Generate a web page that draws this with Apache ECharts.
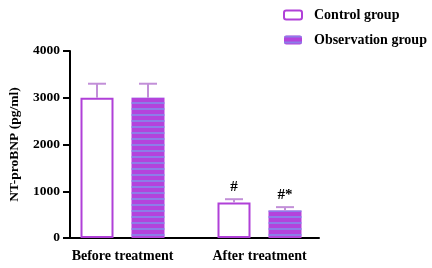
<!DOCTYPE html>
<html>
<head>
<meta charset="utf-8">
<script src="https://cdn.jsdelivr.net/npm/echarts@6/dist/echarts.min.js"></script>
<style>
  html, body { margin: 0; padding: 0; background: #fff; }
  #chart { width: 432px; height: 268px; }
</style>
</head>
<body>
<div id="chart"></div>
<script>
let categories = ["Before treatment", "After treatment"];
let controlMean = [3000, 760];
let controlSD = [300, 70];
let obsMean = [3000, 590];
let obsSD = [300, 70];
let controlMarks = ["", "#"];
let obsMarks = ["", "#*"];
let yTicks = [0, 1000, 2000, 3000, 4000];

let serif = "Liberation Serif";
let purple = "#b040d8";
let errColor = "#c28fd8";
let barW = 33;
let barGapPx = 18;
let marksBySide = { "-1": controlMarks, "1": obsMarks };

function errData(mean, sd, marks) {
  return mean.map(function (m, i) {
    return [i, m, m + sd[i], marks[i]];
  });
}

function errRender(side) {
  return function (params, api) {
    let off = side * (barW + barGapPx) / 2;
    let base = api.coord([api.value(0), api.value(1)]);
    let top = api.coord([api.value(0), api.value(2)]);
    let x = base[0] + off;
    let mark = marksBySide[side][params.dataIndex];
    let kids = [
      { type: "line", shape: { x1: x, y1: base[1], x2: x, y2: top[1] },
        style: { stroke: errColor, lineWidth: 2 } },
      { type: "line", shape: { x1: x - 9, y1: top[1], x2: x + 9, y2: top[1] },
        style: { stroke: errColor, lineWidth: 2 } },
    ];
    if (mark) {
      kids.push({ type: "text", x: x, y: top[1] - 5,
        style: { text: mark, fill: "#000", font: "bold 15px " + serif,
          textAlign: "center", textVerticalAlign: "bottom" } });
    }
    return { type: "group", children: kids };
  };
}

let chart = echarts.init(document.getElementById("chart"));
chart.setOption({
  animation: false,
  grid: [
    // grid 0 holds the bars, grid 1 draws the visible axis frame
    { left: 54, right: 104, top: 51, bottom: 30 },
    { left: 62, right: 113, top: 51, bottom: 30 },
  ],
  legend: {
    orient: "vertical",
    left: 283,
    top: 8,
    padding: 0,
    itemWidth: 18,
    itemHeight: 9,
    itemGap: 11,
    data: ["Control group", "Observation group"],
    textStyle: { fontFamily: serif, fontWeight: "bold", fontSize: 14, color: "#000", padding: [0, 0, 0, 7] },
  },
  xAxis: [
    {
      type: "category",
      gridIndex: 0,
      data: categories,
      axisLine: { show: false },
      axisTick: { alignWithLabel: true, length: 7, lineStyle: { color: "#000", width: 2 } },
      axisLabel: { color: "#000", fontFamily: serif, fontWeight: "bold", fontSize: 14, margin: 11, interval: 0 },
    },
    {
      type: "value",
      gridIndex: 1,
      axisLine: { show: true, lineStyle: { color: "#000", width: 2 } },
      axisTick: { show: false },
      axisLabel: { show: false },
      splitLine: { show: false },
    },
  ],
  yAxis: [
    {
      type: "value",
      gridIndex: 0,
      min: 0,
      max: 4000,
      interval: 1000,
      show: false,
    },
    {
      type: "value",
      gridIndex: 1,
      min: 0,
      max: 4000,
      interval: 1000,
      name: "NT-proBNP (pg/ml)",
      nameLocation: "middle",
      nameGap: 48,
      nameTextStyle: { color: "#000", fontFamily: serif, fontWeight: "bold", fontSize: 13.5 },
      axisLine: { show: true, lineStyle: { color: "#000", width: 2 } },
      axisTick: { show: true, length: 7, lineStyle: { color: "#000", width: 2 } },
      splitLine: { show: false },
      axisLabel: {
        color: "#000", fontFamily: serif, fontWeight: "bold", fontSize: 13.5, margin: 10,
        formatter: function (v) { return yTicks.indexOf(v) >= 0 ? String(v) : ""; },
      },
    },
  ],
  series: [
    {
      name: "Control group",
      type: "bar",
      barWidth: barW,
      barGap: (barGapPx / barW * 100) + "%",
      data: controlMean,
      itemStyle: { color: "#fff", borderColor: purple, borderWidth: 2 },
    },
    {
      name: "Observation group",
      type: "bar",
      barWidth: barW,
      data: obsMean,
      itemStyle: {
        color: "#b443dc",
        decal: {
          symbol: "rect",
          symbolSize: 1,
          dashArrayX: [1, 0],
          dashArrayY: [1.5, 4],
          rotation: 0,
          color: "rgba(130,140,235,0.8)",
        },
      },
    },
    {
      type: "custom",
      renderItem: errRender(-1),
      data: errData(controlMean, controlSD, controlMarks),
      z: 3,
    },
    {
      type: "custom",
      renderItem: errRender(1),
      data: errData(obsMean, obsSD, obsMarks),
      z: 3,
    },
  ],
});
</script>
</body>
</html>
